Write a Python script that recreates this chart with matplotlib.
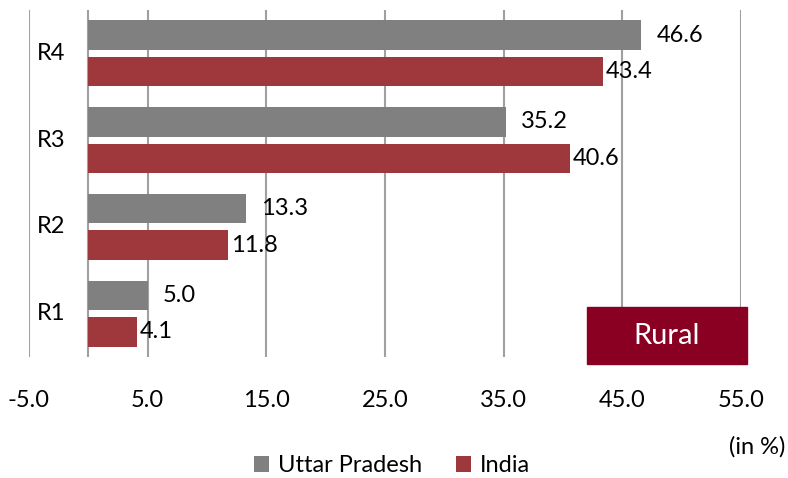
import numpy as np
import matplotlib
matplotlib.use("Agg")
from matplotlib import pyplot as plt
from matplotlib.patches import Rectangle

# data (bottom to top)
categories = ["R1", "R2", "R3", "R4"]
uttar_pradesh = [5.0, 13.3, 35.2, 46.6]
india = [4.1, 11.8, 40.6, 43.4]
x_ticks = [-5, 5, 15, 25, 35, 45, 55]

plt.rcParams['font.family'] = ['Lato', 'DejaVu Sans']
fs = 17

grey = '#808080'
red = '#9E383D'
grid_col = '#A0A0A0'

fig = plt.figure(figsize=(7.88, 4.78), dpi=100)
ax = fig.add_axes([29/788, 1 - 357/478, 712/788, 347/478])

y = np.arange(len(categories))
h = 0.34
off = 0.21
b_up = ax.barh(y + off, uttar_pradesh, height=h, color=grey, label='Uttar Pradesh', zorder=3)
b_in = ax.barh(y - off, india, height=h, color=red, label='India', zorder=3)

for v, yy in zip(uttar_pradesh, y + off):
    ax.annotate(f"{v:.1f}", (v, yy), xytext=(11, 0), textcoords='offset points',
                va='center', ha='left', fontsize=fs, color='black')
for v, yy in zip(india, y - off):
    ax.annotate(f"{v:.1f}", (v, yy), xytext=(2, 0), textcoords='offset points',
                va='center', ha='left', fontsize=fs, color='black')

# category labels sit between the -5 gridline and the axis
for c, yy in zip(categories, y):
    ax.text(-3.1, yy, c, ha='center', va='center', fontsize=fs)

ax.set_xlim(-5, 55)
ax.set_ylim(-0.5, len(categories) - 0.5)
ax.set_xticks(x_ticks)
ax.set_xticklabels([f"{t:.1f}" for t in x_ticks], fontsize=fs)
ax.set_yticks([])
ax.tick_params(axis='x', length=0, pad=24)
ax.grid(axis='x', color=grid_col, linewidth=1.5, zorder=0)
ax.axvline(0, color=grid_col, linewidth=1.5, zorder=1)
for s in ax.spines.values():
    s.set_visible(False)

# "Rural" tag
fig.add_artist(Rectangle((587/788, 1 - 364/478), 160/788, 57/478,
                         transform=fig.transFigure, color='#8A0022', zorder=5))
fig.text(667/788, 1 - 336/478, "Rural", color='white', fontsize=21,
         ha='center', va='center', zorder=6)

fig.text(785/788, 1 - 447/478, "(in %)", ha='right', va='center', fontsize=fs)

fig.legend(handles=[b_up, b_in], loc='center', bbox_to_anchor=(392/788, 1 - 466/478),
           ncol=2, frameon=False, fontsize=fs, handlelength=0.65, handleheight=0.65,
           handletextpad=0.4, columnspacing=1.4, borderpad=0)

fig.savefig('out.png', dpi=100)
